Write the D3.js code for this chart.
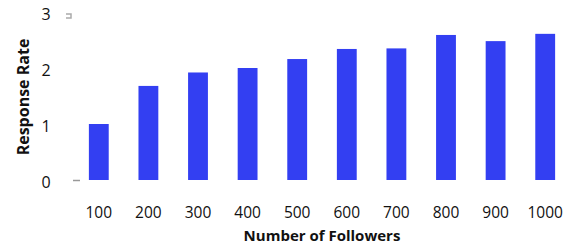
<!DOCTYPE html>
<html lang="en">
<head>
    <meta charset="UTF-8">
    <script src="https://d3js.org/d3.v7.min.js"></script>
    <style>
        body { margin: 0; background: #fff; }
        text { font-family: "Open Sans", "Liberation Sans", sans-serif; fill: #111; }
    </style>
</head>
<body>
    <div id="chart"></div>

    <script>
        // data
        var followers = ["100", "200", "300", "400", "500", "600", "700", "800", "900", "1000"];
        var responseRate = [1.0, 1.68, 1.92, 2.0, 2.16, 2.34, 2.35, 2.59, 2.48, 2.61];
        var yTicks = [0, 1, 2, 3];

        var W = 574, H = 246;
        var margin = { top: 12, right: 4, bottom: 66, left: 74 };
        var width = W - margin.left - margin.right,
            height = 180 - margin.top;

        var svg = d3.select("#chart")
            .append("svg")
            .attr("width", W)
            .attr("height", H)
            .append("g")
            .attr("transform", "translate(" + margin.left + "," + margin.top + ")");

        var x = d3.scaleBand()
            .domain(followers)
            .range([0, 496])
            .paddingInner(0.6)
            .paddingOuter(0.3);

        var y = d3.scaleLinear()
            .domain([0, 3])
            .range([height, 0]);

        // bars
        svg.selectAll("rect.bar")
            .data(followers)
            .enter()
            .append("rect")
            .attr("class", "bar")
            .attr("x", function (d) { return x(d); })
            .attr("width", x.bandwidth())
            .attr("y", function (d, i) { return y(responseRate[i]); })
            .attr("height", function (d, i) { return height - y(responseRate[i]); })
            .attr("fill", "#333ff2");

        // y tick labels
        svg.selectAll("text.ytick")
            .data(yTicks)
            .enter()
            .append("text")
            .attr("class", "ytick")
            .attr("x", -28)
            .attr("y", function (d) { return y(d) + 2; })
            .attr("dy", "0.35em")
            .attr("text-anchor", "middle")
            .style("font-size", "16px")
            .text(function (d) { return d; });

        // little grey marks left over from the axis
        svg.append("line")
            .attr("x1", -1).attr("x2", 6)
            .attr("y1", y(0) + 0.5).attr("y2", y(0) + 0.5)
            .attr("stroke", "#999").attr("stroke-width", 1.5);
        svg.append("path")
            .attr("d", "M" + -8 + "," + (y(3) + 2) + "H" + -3 + "V" + (y(3) + 6) + "H" + -8)
            .attr("fill", "none")
            .attr("stroke", "#aaa").attr("stroke-width", 1.5);

        // x tick labels
        svg.selectAll("text.xtick")
            .data(followers)
            .enter()
            .append("text")
            .attr("class", "xtick")
            .attr("x", function (d) { return x(d) + x.bandwidth() / 2; })
            .attr("y", height + 33)
            .attr("dy", "0.35em")
            .attr("text-anchor", "middle")
            .style("font-size", "15.5px")
            .text(function (d) { return d; });

        // axis titles
        svg.append("text")
            .attr("x", 322 - margin.left)
            .attr("y", height + 55.5)
            .attr("dy", "0.35em")
            .attr("text-anchor", "middle")
            .style("font-size", "15px")
            .style("font-weight", "bold")
            .text("Number of Followers");

        svg.append("text")
            .attr("transform", "translate(-51," + (97 - margin.top) + ") rotate(-90)")
            .attr("text-anchor", "middle")
            .attr("dy", "0.35em")
            .style("font-size", "16px")
            .style("font-weight", "bold")
            .text("Response Rate");
    </script>
</body>
</html>
